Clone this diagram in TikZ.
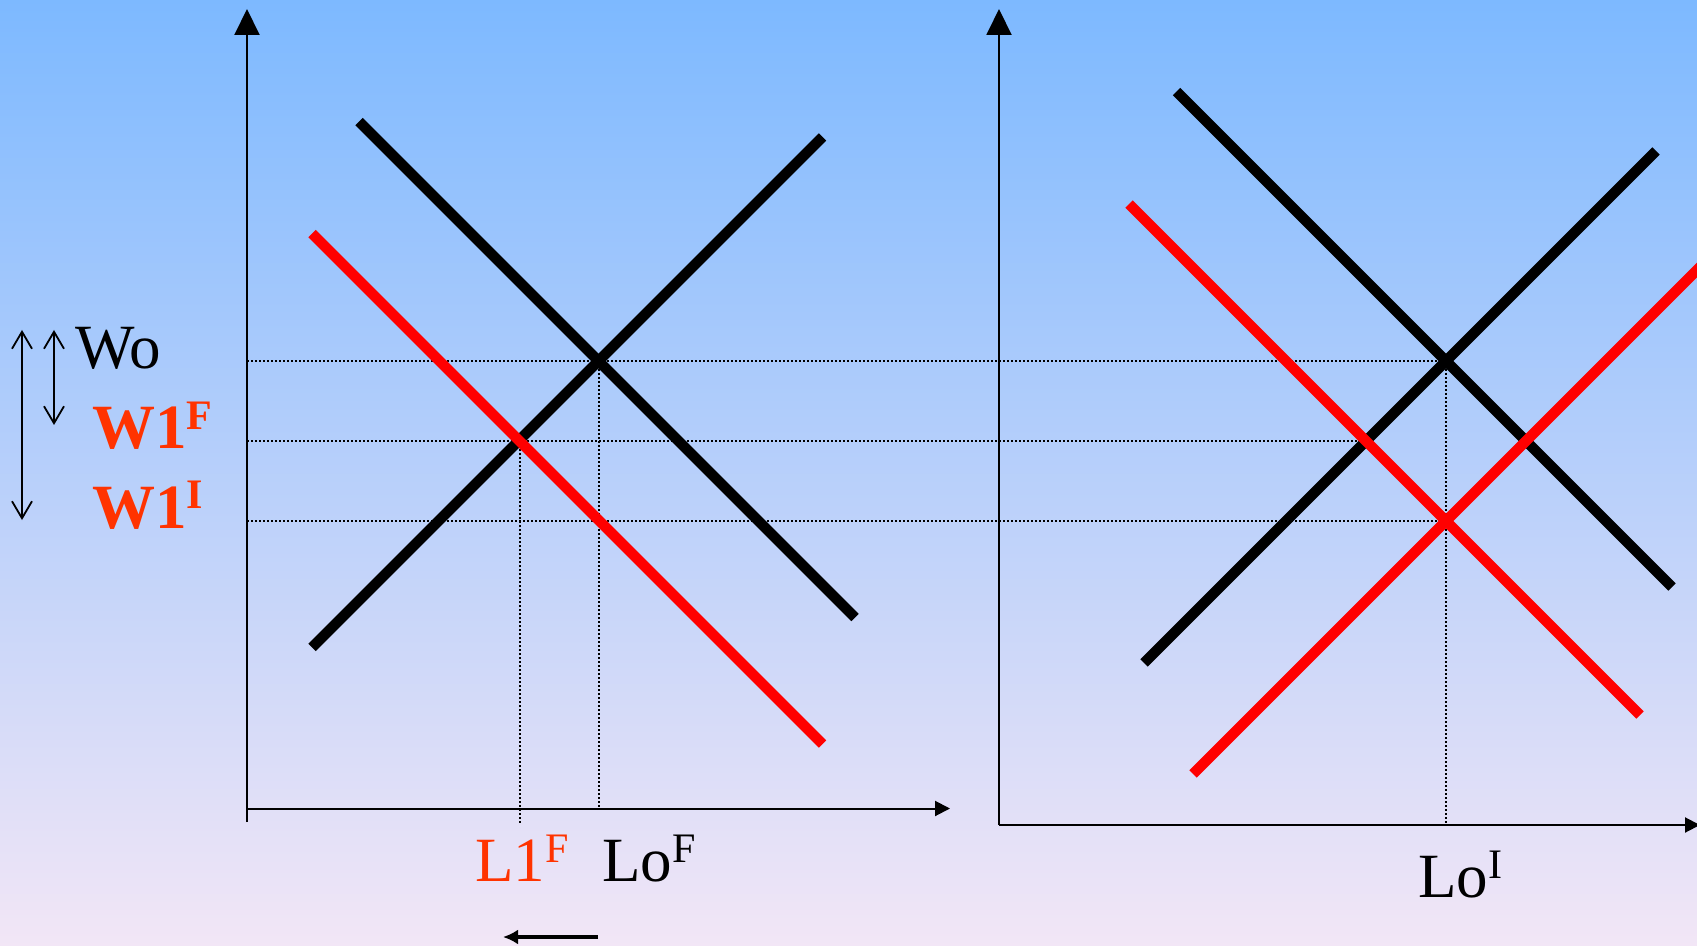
\documentclass[tikz,border=0pt]{standalone}
\usepackage{fontspec}
\setmainfont{Liberation Serif}
\usetikzlibrary{arrows.meta}
\definecolor{bgtop}{RGB}{125,185,255}
\definecolor{bgbot}{RGB}{242,230,246}
\definecolor{lblred}{RGB}{255,51,0}
\newcommand{\mysup}[1]{\raisebox{9.5pt}{\fontsize{21}{24}\selectfont #1}}
\tikzset{
  curve/.style={line width=5.2pt},
  blackcurve/.style={curve,black},
  redcurve/.style={curve,red},
  axis/.style={line width=1pt},
  guide/.style={line width=1pt,dash pattern=on 1pt off 1pt},
  lbl/.style={anchor=base west,inner sep=0pt,font=\fontsize{31.5}{36}\selectfont},
  shiftarrow/.style={line width=0.9pt,{Straight Barb[length=8.5pt,width=10pt]}-{Straight Barb[length=8.5pt,width=10pt]}}
}
\begin{document}
\begin{tikzpicture}[x=0.5pt,y=-0.5pt]
\useasboundingbox (0,0) rectangle (1697,946);
\shade[top color=bgtop,bottom color=bgbot] (0,0) rectangle (1697,946);

% intersections
\coordinate (E0L) at (598.5,361);
\coordinate (E1L) at (519.5,441);
\coordinate (E1R) at (1446,521);
\coordinate (E0R) at (1446,361);
\coordinate (EmR) at (1366,441);

% axes
\coordinate (OyL) at (247,822);
\coordinate (TyL) at (247,9);
\coordinate (OxL) at (247,808.5);
\coordinate (TxL) at (950,808.5);
\coordinate (OyR) at (999,825);
\coordinate (TyR) at (999,9);
\coordinate (OxR) at (999,825);
\coordinate (TxR) at (1700,825);
\draw[axis,-{Triangle[length=13pt,width=12.5pt]}] (OyL) -- (TyL);
\draw[axis,-{Triangle[length=7.5pt,width=7.5pt]}] (OxL) -- (TxL);
\draw[axis,-{Triangle[length=13pt,width=12.5pt]}] (OyR) -- (TyR);
\draw[axis,-{Triangle[length=7.5pt,width=7.5pt]}] (OxR) -- (TxR);

% guide lines
\coordinate (G0) at (247,361);
\coordinate (G1) at (247,441);
\coordinate (G2) at (247,521);
\coordinate (B1L) at (519.5,823);
\coordinate (B0L) at (598.5,808.5);
\coordinate (B0R) at (1446,825);
\draw[guide] (G0) -- (E0R);
\draw[guide] (G1) -- (EmR);
\draw[guide] (G2) -- (E1R);
\draw[guide] (E1L) -- (B1L);
\draw[guide] (E0L) -- (B0L);
\draw[guide] (E0R) -- (B0R);

% left panel curves
\coordinate (DLa) at (359,121.5);
\coordinate (DLb) at (855,617.5);
\coordinate (SLa) at (312,647.5);
\coordinate (SLb) at (822.5,137);
\coordinate (RLa) at (312,233.5);
\coordinate (RLb) at (822.5,744);
\draw[blackcurve] (DLa) -- (DLb);
\draw[blackcurve] (SLa) -- (SLb);
\draw[redcurve] (RLa) -- (RLb);

% right panel curves
\coordinate (DRa) at (1176.5,91.5);
\coordinate (DRb) at (1672,587);
\coordinate (SRa) at (1144,663);
\coordinate (SRb) at (1656,151);
\coordinate (RDa) at (1129,204);
\coordinate (RDb) at (1640,715);
\coordinate (RSa) at (1193,774);
\coordinate (RSb) at (1710,257);
\draw[blackcurve] (DRa) -- (DRb);
\draw[blackcurve] (SRa) -- (SRb);
\draw[redcurve] (RDa) -- (RDb);
\draw[redcurve] (RSa) -- (RSb);

% labels
\node[lbl] (wo) at (75,369) {Wo};
\node[lbl,text=lblred,font=\fontsize{31.5}{36}\selectfont\bfseries] (w1f) at (92,449) {W1\mysup{F}};
\node[lbl,text=lblred,font=\fontsize{31.5}{36}\selectfont\bfseries] (w1i) at (92,528) {W1\mysup{I}};
\node[lbl,text=lblred] (l1f) at (475,881) {L1\mysup{F}};
\node[lbl] (lof) at (602,881) {Lo\mysup{F}};
\node[lbl] (loi) at (1418,897) {Lo\mysup{I}};

% shift arrows
\coordinate (A1t) at (22,330);
\coordinate (A1b) at (22,520);
\coordinate (A2t) at (54,330);
\coordinate (A2b) at (54,425);
\draw[shiftarrow] (A1t) -- (A1b);
\draw[shiftarrow] (A2t) -- (A2b);
\coordinate (Ms) at (598,937);
\coordinate (Me) at (503,937);
\draw[line width=1.6pt,-{Latex[length=7.5pt,width=7.5pt]}] (Ms) -- (Me);
\end{tikzpicture}
\end{document}
